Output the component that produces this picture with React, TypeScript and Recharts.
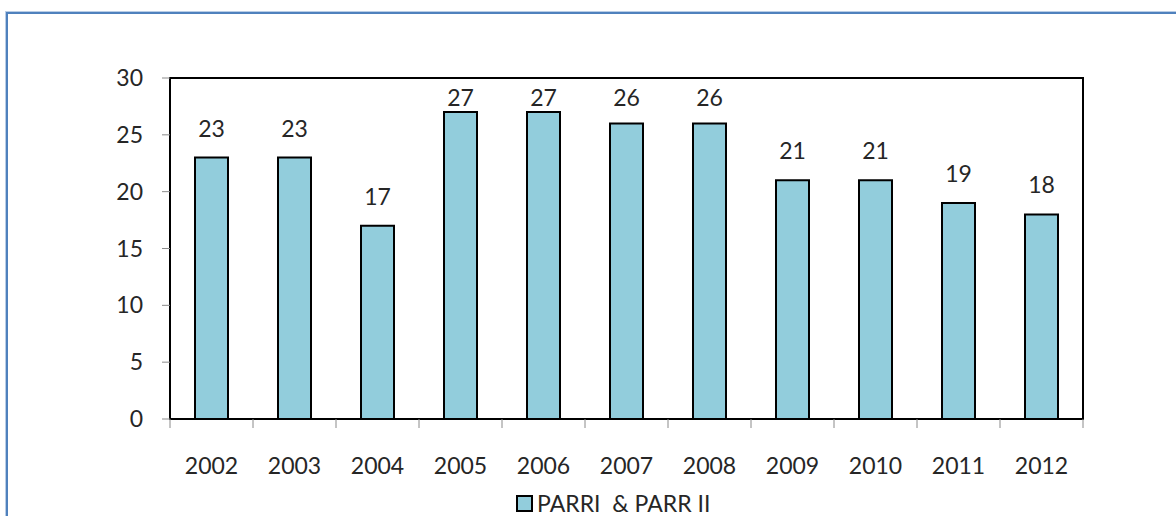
import React from 'react';
import { BarChart, Bar, XAxis, YAxis, Legend, LabelList, ReferenceArea } from 'recharts';

const years = ['2002', '2003', '2004', '2005', '2006', '2007', '2008', '2009', '2010', '2011', '2012'];
const values = [23, 23, 17, 27, 27, 26, 26, 21, 21, 19, 18];
const yTicks = [0, 5, 10, 15, 20, 25, 30];
const seriesName = 'PARRI  & PARR II';

const data = years.map((year, i) => ({ year, value: values[i] }));

const W = 1176;
const H = 516;
const PLOT_TOP = 78;
const PLOT_LEFT = 170;
const PLOT_RIGHT = 1083;
const BAND = (PLOT_RIGHT - PLOT_LEFT) / years.length;
const FONT = 'Lato, "Open Sans", sans-serif';
const FS = 23;
const BAR_FILL = '#92CDDC';

// category-boundary tick marks + label
const XTick = (props: any) => {
  const { x, y, payload, index } = props;
  const half = BAND / 2;
  return (
    <g>
      <line x1={x - half} y1={y} x2={x - half} y2={y + 9} stroke="#8a8a8a" />
      {index === years.length - 1 && (
        <line x1={x + half} y1={y} x2={x + half} y2={y + 9} stroke="#8a8a8a" />
      )}
      <text
        x={x}
        y={y + 46}
        textAnchor="middle"
        dominantBaseline="central"
        fill="#262626"
        fontSize={FS}
        fontFamily={FONT}
      >
        {payload.value}
      </text>
    </g>
  );
};

// value label above bar, kept inside the plot area like Excel does
const BarValue = (props: any) => {
  const { x, y, width, value } = props;
  const cy = Math.max(y - 29, PLOT_TOP + 20);
  return (
    <text
      x={x + width / 2}
      y={cy + 8}
      textAnchor="middle"
      fill="#262626"
      fontSize={FS}
      fontFamily={FONT}
    >
      {value}
    </text>
  );
};

const LegendContent = () => (
  <div style={{ display: 'flex', alignItems: 'flex-start', height: 37, paddingTop: 16, boxSizing: 'border-box' }}>
    <div
      style={{
        width: 13,
        height: 13,
        background: BAR_FILL,
        border: '2px solid #000',
        marginRight: 4,
      }}
    />
    <span
      style={{
        fontFamily: FONT,
        fontSize: FS,
        lineHeight: '16px',
        color: '#262626',
        whiteSpace: 'pre',
      }}
    >
      {seriesName}
    </span>
  </div>
);

export default function App() {
  return (
    <div style={{ position: 'absolute', left: 0, top: 0, width: W, height: H, overflow: 'hidden', background: '#fff' }}>
      {/* blue frame around the chart */}
      <div
        style={{
          position: 'absolute',
          left: 6,
          top: 12,
          width: W + 40,
          height: H + 40,
          border: '2px solid #4F81BD',
          boxShadow: '0 0 0 1px #b9cde6',
        }}
      />
      <BarChart
        width={W}
        height={H}
        data={data}
        margin={{ top: PLOT_TOP, right: W - PLOT_RIGHT, left: 0, bottom: 0 }}
        barSize={33}
        style={{ position: 'absolute', left: 0, top: 0 }}
      >
        <XAxis
          dataKey="year"
          height={60}
          interval={0}
          tickLine={false}
          tickSize={0}
          tickMargin={0}
          tick={<XTick />}
          axisLine={{ stroke: '#000', strokeWidth: 2 }}
        />
        <YAxis
          width={PLOT_LEFT}
          domain={[0, 30]}
          ticks={yTicks}
          interval={0}
          tickSize={8}
          tickMargin={19}
          tickLine={{ stroke: '#8a8a8a' }}
          axisLine={{ stroke: '#000', strokeWidth: 2 }}
          tick={{ fill: '#262626', fontSize: FS, fontFamily: FONT }}
        />
        {/* plot-area border */}
        <ReferenceArea
          x1={years[0]}
          x2={years[years.length - 1]}
          y1={0}
          y2={30}
          fill="none"
          fillOpacity={0}
          stroke="#000"
          strokeWidth={2}
        />
        <Legend
          verticalAlign="bottom"
          height={37}
          content={<LegendContent />}
          wrapperStyle={{ left: 516, width: 'auto' }}
        />
        <Bar
          dataKey="value"
          name={seriesName}
          fill={BAR_FILL}
          stroke="#000"
          strokeWidth={2}
          isAnimationActive={false}
        >
          <LabelList dataKey="value" content={<BarValue />} />
        </Bar>
      </BarChart>
    </div>
  );
}
